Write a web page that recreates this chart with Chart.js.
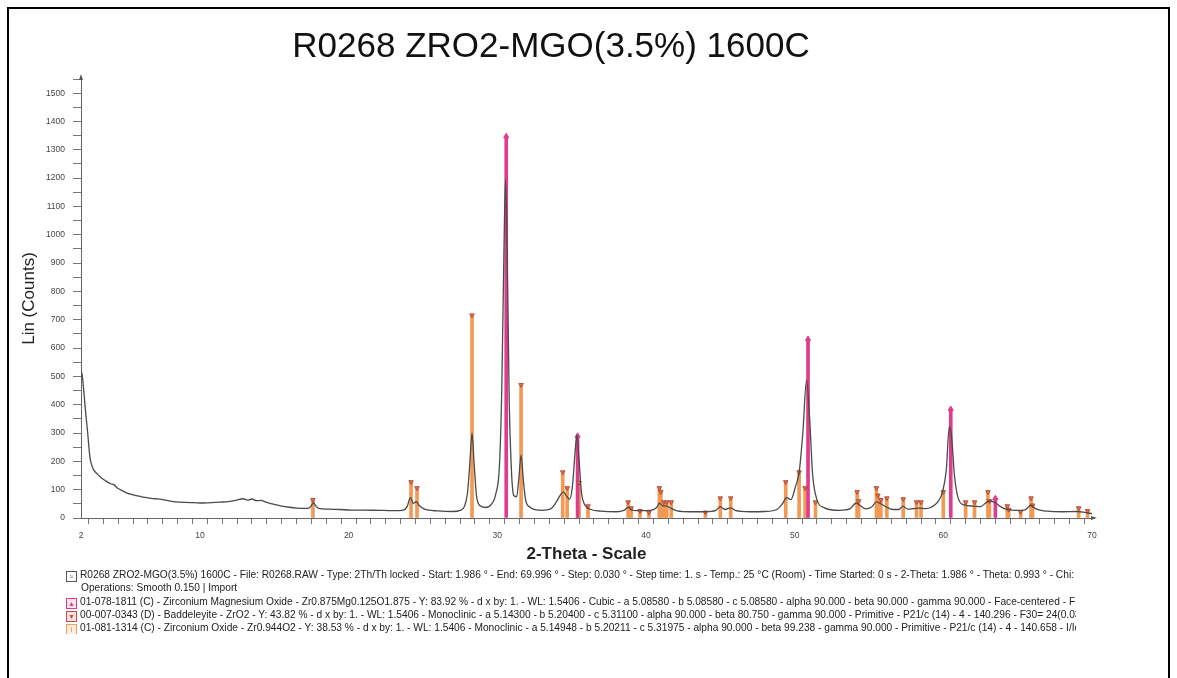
<!DOCTYPE html>
<html>
<head>
<meta charset="utf-8">
<title>R0268 ZRO2-MGO(3.5%) 1600C</title>
<script src="https://cdn.jsdelivr.net/npm/chart.js@4.4.0/dist/chart.umd.min.js"></script>
<style>
  html, body { margin: 0; padding: 0; background: #fff; }
  #page { position: relative; width: 1177px; height: 678px; overflow: hidden; font-family: 'Liberation Sans', Arial, sans-serif; }
  #frame { position: absolute; left: 7px; top: 7px; width: 1159px; height: 720px; border: 2px solid #000; }
  #xrd { position: absolute; left: 0; top: 0; }
  #info { position: absolute; left: 66px; top: 568px; width: 1010px; overflow: hidden; font-size: 10.2px; line-height: 13.3px; color: #222; white-space: nowrap; }
  #info div { height: 13.3px; }
  .ico { display: inline-block; width: 9px; height: 9px; margin-right: 3px; vertical-align: -1px; border: 1px solid; font-size: 7px; line-height: 9px; text-align: center; box-sizing: content-box; }
  .indent { padding-left: 15px; }
</style>
</head>
<body>
<div id="page">
  <div id="frame"></div>
  <canvas id="xrd" width="1177" height="678"></canvas>
  <div id="info">
    <div><span class="ico" style="border-color:#555;color:#555">&#8776;</span>R0268 ZRO2-MGO(3.5%) 1600C - File: R0268.RAW - Type: 2Th/Th locked - Start: 1.986 ° - End: 69.996 ° - Step: 0.030 ° - Step time: 1. s - Temp.: 25 °C (Room) - Time Started: 0 s - 2-Theta: 1.986 ° - Theta: 0.993 ° - Chi: 0.00 ° - Phi: 0.00 °</div>
    <div class="indent">Operations: Smooth 0.150 | Import</div>
    <div><span class="ico" style="border-color:#e03c8c;color:#e03c8c;background:#fbe3ef">&#9650;</span>01-078-1811 (C) - Zirconium Magnesium Oxide - Zr0.875Mg0.125O1.875 - Y: 83.92 % - d x by: 1. - WL: 1.5406 - Cubic - a 5.08580 - b 5.08580 - c 5.08580 - alpha 90.000 - beta 90.000 - gamma 90.000 - Face-centered - Fm-3m (225)</div>
    <div><span class="ico" style="border-color:#c0504a;color:#c0504a;background:#f8e2e0">&#9660;</span>00-007-0343 (D) - Baddeleyite - ZrO2 - Y: 43.82 % - d x by: 1. - WL: 1.5406 - Monoclinic - a 5.14300 - b 5.20400 - c 5.31100 - alpha 90.000 - beta 80.750 - gamma 90.000 - Primitive - P21/c (14) - 4 - 140.296 - F30= 24(0.035,36)</div>
    <div><span class="ico" style="border-color:#f0a060;color:#e08840;background:#fdeedd">I</span>01-081-1314 (C) - Zirconium Oxide - Zr0.944O2 - Y: 38.53 % - d x by: 1. - WL: 1.5406 - Monoclinic - a 5.14948 - b 5.20211 - c 5.31975 - alpha 90.000 - beta 99.238 - gamma 90.000 - Primitive - P21/c (14) - 4 - 140.658 - I/Ic PDF 4.6</div>
  </div>
</div>
<script>
// Smoothed scan: [2-Theta (deg), Lin counts]
const scanPoints = [
  [2.00, 520], [2.08, 505], [2.15, 470], [2.30, 380], [2.45, 300], [2.60, 215], [2.70, 190], [2.85, 170],
  [3.10, 155], [3.40, 140], [3.70, 130], [4.00, 121], [4.20, 118], [4.50, 104], [4.80, 96], [5.10, 88],
  [5.50, 82], [5.90, 77], [6.20, 74], [6.60, 70], [7.00, 68], [7.40, 66], [7.80, 62], [8.20, 58],
  [8.60, 56], [9.00, 55], [9.60, 54], [10.20, 53], [10.80, 54], [11.40, 56], [11.90, 58], [12.40, 62],
  [12.90, 68], [13.20, 63], [13.50, 67], [13.80, 61], [14.10, 62], [14.50, 55], [15.00, 48], [15.50, 42],
  [16.00, 38], [16.50, 35], [17.00, 34], [17.35, 36], [17.55, 48], [17.65, 53], [17.80, 42], [18.00, 34],
  [18.60, 31], [19.40, 30], [20.20, 28], [21.00, 28], [22.00, 27], [23.00, 26], [23.70, 28], [23.95, 42],
  [24.15, 72], [24.35, 52], [24.55, 58], [24.75, 44], [25.10, 31], [26.00, 25], [27.00, 23], [27.50, 27],
  [27.80, 42], [28.00, 90], [28.15, 190], [28.30, 300], [28.45, 185], [28.60, 80], [28.80, 45], [29.20, 37],
  [29.60, 48], [29.90, 85], [30.15, 190], [30.30, 450], [30.45, 950], [30.55, 1195], [30.65, 1000], [30.80, 420],
  [30.95, 170], [31.10, 80], [31.30, 75], [31.45, 140], [31.60, 222], [31.75, 135], [31.90, 65], [32.20, 38],
  [33.00, 27], [33.60, 32], [33.95, 55], [34.25, 82], [34.45, 92], [34.65, 78], [34.85, 66], [35.05, 110],
  [35.20, 210], [35.35, 293], [35.50, 205], [35.65, 95], [35.90, 45], [36.30, 30], [37.00, 24], [38.00, 22],
  [38.55, 28], [38.80, 38], [39.05, 28], [39.60, 26], [40.30, 27], [40.70, 36], [40.90, 52], [41.10, 44],
  [41.40, 42], [41.70, 34], [42.10, 25], [43.00, 22], [44.00, 22], [44.70, 27], [45.00, 40], [45.30, 30],
  [45.70, 36], [46.00, 27], [47.00, 22], [48.00, 23], [48.80, 30], [49.20, 52], [49.45, 72], [49.75, 65],
  [50.05, 110], [50.30, 160], [50.55, 300], [50.80, 487], [51.00, 360], [51.20, 160], [51.50, 65], [52.00, 36],
  [53.00, 27], [53.70, 32], [54.15, 53], [54.40, 44], [54.80, 32], [55.20, 40], [55.50, 57], [55.80, 50],
  [56.20, 38], [56.60, 30], [57.00, 30], [57.30, 42], [57.60, 31], [58.00, 33], [58.40, 35], [58.80, 33],
  [59.20, 38], [59.60, 55], [59.95, 92], [60.20, 170], [60.40, 322], [60.55, 290], [60.75, 150], [61.00, 70],
  [61.40, 46], [62.00, 42], [62.50, 40], [62.90, 55], [63.15, 60], [63.50, 54], [63.80, 42], [64.20, 31],
  [64.60, 28], [65.00, 27], [65.50, 29], [65.90, 45], [66.20, 33], [67.00, 24], [68.00, 22], [69.00, 23],
  [69.50, 20], [70.00, 15]
];

// 01-078-1811 Zirconium Magnesium Oxide (cubic) stick lines
const cubicTheta = [30.60, 35.40, 50.90, 60.50, 63.50];
const cubicInt   = [1348, 290, 632, 385, 70];

// Monoclinic ZrO2 stick lines (Baddeleyite 00-007-0343 / Zirconium Oxide 01-081-1314)
const monoTheta = [17.6, 24.2, 24.6, 28.3, 31.6, 34.4, 34.7, 35.5, 36.1, 38.8, 39.0, 39.6, 40.2,
                   40.9, 41.0, 41.2, 41.4, 41.7, 44.0, 45.0, 45.7, 49.4, 50.3, 50.7, 51.4, 54.2,
                   54.3, 55.5, 55.6, 55.8, 56.2, 57.3, 58.2, 58.5, 60.0, 61.5, 62.1, 63.0, 63.1,
                   64.3, 64.4, 65.2, 65.9, 66.0, 69.1, 69.7];
const monoInt   = [64, 127, 106, 716, 470, 162, 106, 125, 42, 56, 35, 25, 20,
                   106, 92, 56, 56, 56, 20, 70, 70, 127, 162, 106, 56, 92,
                   60, 106, 80, 64, 70, 67, 56, 56, 92, 56, 56, 92, 60,
                   42, 30, 22, 70, 45, 35, 25];

const xLabelTicks = [2, 10, 20, 30, 40, 50, 60, 70];
const yLabelTicks = [0, 100, 200, 300, 400, 500, 600, 700, 800, 900, 1000, 1100, 1200, 1300, 1400, 1500];

const FONT = "'Liberation Sans', Arial, sans-serif";
const PINK = '#e03c8c';
const ORANGE = '#f29a55';
const DARKRED = '#b8483c';

const toXY = (xs, ys) => xs.map((x, i) => ({ x: x, y: ys[i] }));

// small arrowheads at the ends of both axes
const axisArrows = {
  id: 'axisArrows',
  afterDraw(chart) {
    const { ctx, chartArea: a } = chart;
    ctx.save();
    ctx.fillStyle = '#555';
    ctx.beginPath();
    ctx.moveTo(a.left, a.top - 5);
    ctx.lineTo(a.left - 2, a.top + 1);
    ctx.lineTo(a.left + 2, a.top + 1);
    ctx.fill();
    ctx.beginPath();
    ctx.moveTo(a.right + 5, a.bottom);
    ctx.lineTo(a.right - 1, a.bottom - 2);
    ctx.lineTo(a.right - 1, a.bottom + 2);
    ctx.fill();
    ctx.restore();
  }
};

new Chart(document.getElementById('xrd'), {
  type: 'line',
  data: {
    datasets: [
      {
        label: 'R0268 ZRO2-MGO(3.5%) 1600C',
        type: 'line',
        data: scanPoints.map(p => ({ x: p[0], y: p[1] })),
        borderColor: '#4a4a4a',
        borderWidth: 1.3,
        pointRadius: 0,
        cubicInterpolationMode: 'monotone',
        order: 0
      },
      {
        label: '01-078-1811 markers',
        type: 'scatter',
        data: toXY(cubicTheta, cubicInt),
        pointStyle: 'triangle',
        pointRadius: 3,
        backgroundColor: PINK,
        borderColor: PINK,
        borderWidth: 1,
        order: 1
      },
      {
        label: '00-007-0343 markers',
        type: 'scatter',
        data: toXY(monoTheta, monoInt),
        pointStyle: 'triangle',
        rotation: 180,
        pointRadius: 2.6,
        backgroundColor: '#e07a48',
        borderColor: DARKRED,
        borderWidth: 1,
        order: 1
      },
      {
        label: '01-078-1811 (C) - Zirconium Magnesium Oxide',
        type: 'bar',
        data: toXY(cubicTheta, cubicInt),
        backgroundColor: PINK,
        barThickness: 3,
        grouped: false,
        order: 2
      },
      {
        label: '01-081-1314 (C) - Zirconium Oxide',
        type: 'bar',
        data: toXY(monoTheta, monoInt),
        backgroundColor: ORANGE,
        barThickness: 3,
        grouped: false,
        order: 3
      }
    ]
  },
  options: {
    responsive: false,
    animation: false,
    layout: { padding: { left: 10, right: 85, top: 0, bottom: 112 } },
    plugins: {
      legend: { display: false },
      tooltip: { enabled: false },
      title: {
        display: true,
        text: 'R0268 ZRO2-MGO(3.5%) 1600C',
        color: '#111',
        font: { family: FONT, size: 35, weight: 'normal', lineHeight: 1.2 },
        padding: { top: 26, bottom: 11 }
      }
    },
    scales: {
      x: {
        type: 'linear',
        min: 2,
        max: 70,
        offset: false,
        afterFit: s => { s.height = 48; },
        afterBuildTicks: s => {
          const t = [];
          for (let v = 2; v <= 70; v++) t.push({ value: v });
          s.ticks = t;
        },
        ticks: {
          autoSkip: false,
          maxRotation: 0,
          padding: 7,
          color: '#444',
          font: { family: FONT, size: 8.5 },
          callback: v => xLabelTicks.includes(v) ? String(v) : ''
        },
        grid: { drawOnChartArea: false, drawTicks: true, tickLength: 6, tickColor: '#777' },
        border: { display: true, color: '#666', width: 1 },
        title: {
          display: true,
          text: '2-Theta - Scale',
          color: '#222',
          font: { family: FONT, size: 17, weight: 'bold', lineHeight: 1.2 },
          padding: { top: 0, bottom: 1 }
        }
      },
      y: {
        type: 'linear',
        min: 0,
        max: 1550,
        afterFit: s => { s.width = 71; },
        ticks: {
          stepSize: 50,
          autoSkip: false,
          padding: 8,
          color: '#444',
          font: { family: FONT, size: 8.5 },
          callback: v => yLabelTicks.includes(v) ? String(v) : ''
        },
        grid: { drawOnChartArea: false, drawTicks: true, tickLength: 8, tickColor: '#777' },
        border: { display: true, color: '#666', width: 1 },
        title: {
          display: true,
          text: 'Lin (Counts)',
          color: '#222',
          font: { family: FONT, size: 17, lineHeight: 1.2 },
          padding: { top: 9, bottom: 0 }
        }
      }
    }
  },
  plugins: [axisArrows]
});
</script>
</body>
</html>
